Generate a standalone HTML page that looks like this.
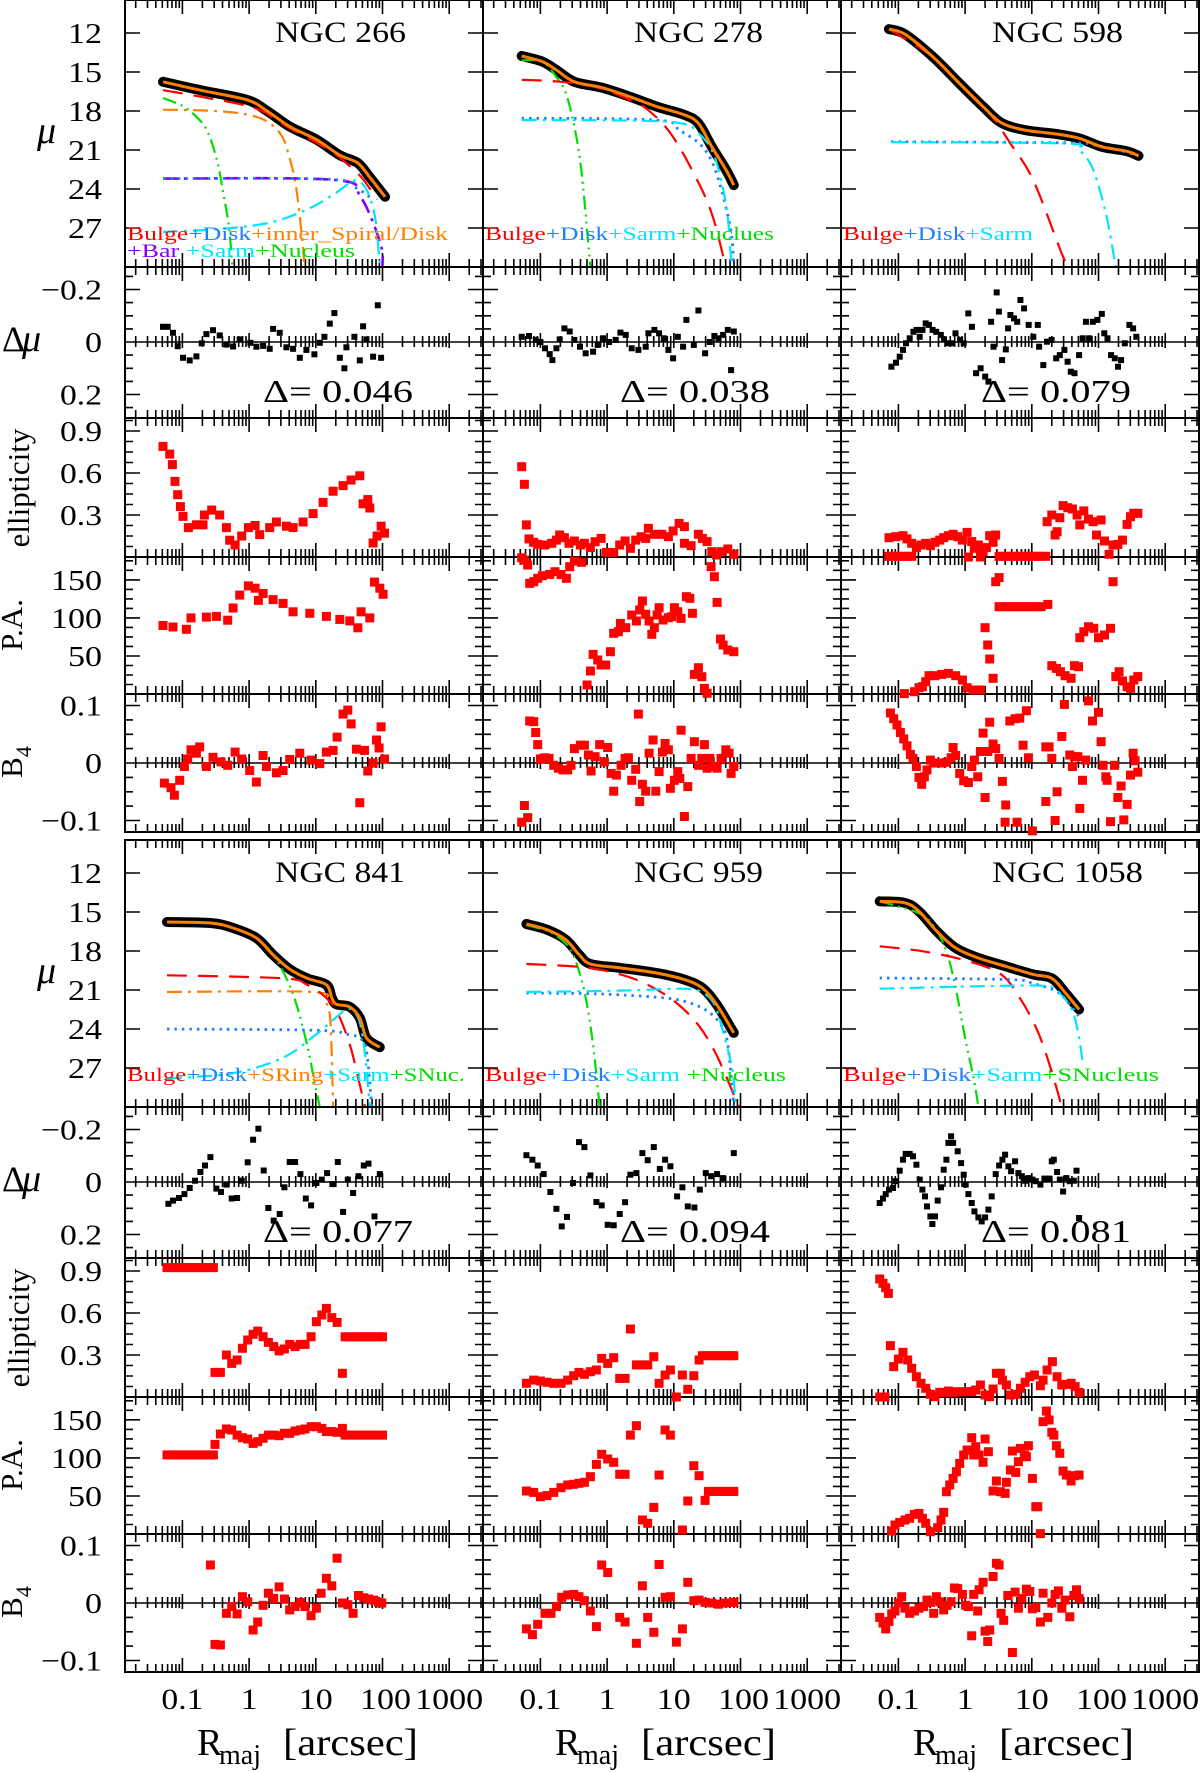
<!DOCTYPE html>
<html><head><meta charset="utf-8"><title>Galaxy decomposition profiles</title>
<style>
html,body{margin:0;padding:0;background:#fff;}
svg{display:block;}
text{font-family:"Liberation Serif","DejaVu Serif",serif;fill:#000;}
</style></head>
<body>
<svg id="chart" xmlns="http://www.w3.org/2000/svg" width="1200" height="1772" viewBox="0 0 1200 1772">
<rect x="0" y="0" width="1200" height="1772" fill="#fff"/>
</svg>
<script>
// ---------- tick data ----------
const muTicks=[12,15,18,21,24,27];
const muLabels=['12','15','18','21','24','27'];
const dmuTicks=[-0.2,0,0.2];
const dmuLabels=['\u22120.2','0','0.2'];
const dmuMinor=[-0.25,-0.15,-0.1,-0.05,0.05,0.1,0.15,0.25];
const ellTicks=[0.3,0.6,0.9];
const ellLabels=['0.3','0.6','0.9'];
const ellMinor=[0.075,0.15,0.225,0.375,0.45,0.525,0.675,0.75,0.825,0.975];
const paTicks=[50,100,150];
const paLabels=['50','100','150'];
const paMinor=[12.5,25,37.5,62.5,75,87.5,112.5,125,137.5,162.5,175];
const b4Ticks=[-0.1,0,0.1];
const b4Labels=['\u22120.1','0','0.1'];
const b4Minor=[-0.075,-0.05,-0.025,0.025,0.05,0.075];
const xMajor=[0.1,1,10,100,1000];
const xLabels=['0.1','1','10','100','1000'];

// ---------- NGC 266 ----------
const n266_tot=[[-1.29,15.75],[-0.73,16.4],[-0.03,17.15],[0.27,18.0],[0.61,19.2],[1.01,20.2],[1.36,21.4],[1.63,22.0],[1.81,23.1],[2.04,24.6]];
const n266_bulge=[[-1.29,16.4],[-0.73,16.9],[0.1,17.8],[0.6,19.3],[1.2,21.0],[1.5,22.2],[1.7,23.2],[1.92,24.8]];
const n266_disk=[[-1.29,23.2],[1.2,23.25],[1.6,23.9],[1.85,24.8]];
const n266_spiral=[[-1.29,17.9],[-0.5,18.0],[0.0,18.3],[0.3,18.9],[0.5,20.0],[0.6,21.5],[0.7,23.7],[0.8,28],[0.83,30]];
const n266_bar=[[-1.29,23.2],[1.27,23.3],[1.67,24.6],[1.97,28.2],[2.0,30]];
const n266_sarm=[[-1.29,27.3],[-0.5,27.1],[0.3,26.6],[0.9,25.5],[1.3,24.3],[1.55,23.4],[1.68,23.5],[1.8,24.5],[1.9,26.5],[1.96,30]];
const n266_nuc=[[-1.29,17.0],[-1.0,17.6],[-0.8,18.4],[-0.63,19.5],[-0.48,21.8],[-0.38,24.5],[-0.3,27],[-0.25,30]];
const n266_dmu=[[-1.29,-0.058],[-1.22,-0.058],[-1.14,-0.035],[-1.07,0.016],[-0.99,0.06],[-0.89,0.07],[-0.79,0.055],[-0.71,0.005],[-0.64,-0.03],[-0.54,-0.045],[-0.44,-0.025],[-0.34,0.01],[-0.24,0.017],[-0.14,-0.01],[0.02,0.003],[0.11,0.018],[0.21,0.015],[0.31,0.026],[0.36,-0.05],[0.46,-0.035],[0.56,0.02],[0.66,0.026],[0.76,0.06],[0.86,0.03],[0.98,0.047],[1.06,0.003],[1.13,-0.02],[1.21,-0.07],[1.28,-0.11],[1.36,0.06],[1.43,0.1],[1.46,0.02],[1.58,-0.02],[1.66,0.07],[1.71,-0.06],[1.76,-0.01],[1.86,0.056],[1.93,-0.14],[1.98,0.06]];
const n266_ell=[[-1.29,0.79],[-1.19,0.735],[-1.15,0.66],[-1.11,0.54],[-1.07,0.445],[-1.03,0.36],[-0.99,0.29],[-0.91,0.21],[-0.79,0.23],[-0.69,0.23],[-0.67,0.3],[-0.56,0.335],[-0.44,0.3],[-0.34,0.21],[-0.29,0.12],[-0.21,0.086],[-0.11,0.15],[-0.01,0.21],[0.09,0.225],[0.16,0.16],[0.31,0.21],[0.41,0.25],[0.56,0.22],[0.66,0.21],[0.81,0.25],[0.96,0.31],[1.11,0.39],[1.26,0.47],[1.41,0.51],[1.53,0.55],[1.66,0.58],[1.71,0.38],[1.78,0.41],[1.81,0.35],[1.86,0.1],[1.92,0.15],[1.98,0.22],[2.03,0.17]];
const n266_pa=[[-1.29,90],[-1.14,88],[-0.94,85],[-0.87,100],[-0.64,101],[-0.49,102],[-0.32,97],[-0.24,113],[-0.14,130],[-0.01,142],[0.09,139],[0.14,123],[0.21,132],[0.36,124],[0.51,119],[0.66,108],[0.91,106],[1.16,102],[1.36,98],[1.51,96],[1.63,87],[1.68,108],[1.81,100],[1.88,147],[1.96,139],[2.01,131]];
const n266_b4=[[-1.27,-0.035],[-1.17,-0.043],[-1.12,-0.056],[-1.04,-0.03],[-0.97,-0.006],[-0.92,0.007],[-0.87,0.023],[-0.79,0.017],[-0.74,0.028],[-0.64,-0.006],[-0.54,0.01],[-0.42,0.002],[-0.32,-0.004],[-0.21,0.019],[-0.11,0.007],[0.01,-0.013],[0.11,-0.033],[0.21,0.013],[0.26,-0.006],[0.41,-0.017],[0.51,-0.013],[0.61,0.006],[0.76,0.017],[0.93,0.005],[1.06,-0.001],[1.16,0.019],[1.26,0.022],[1.32,0.045],[1.41,0.085],[1.48,0.092],[1.53,0.068],[1.61,0.024],[1.66,-0.069],[1.73,0.022],[1.78,-0.014],[1.86,0],[1.91,0.04],[1.95,0.026],[1.98,0.063],[2.03,0.007]];

// ---------- NGC 278 ----------
const n278_tot=[[-1.28,13.77],[-0.97,14.2],[-0.76,14.85],[-0.49,15.75],[-0.08,16.2],[0.34,16.9],[0.75,17.67],[1.16,18.3],[1.37,18.95],[1.57,20.75],[1.78,22.5],[1.9,23.7]];
const n278_bulge=[[-1.28,15.6],[-0.69,15.75],[-0.14,16.2],[0.34,17.15],[0.61,17.9],[0.95,19.7],[1.3,22.8],[1.57,25.9],[1.78,30]];
const n278_disk=[[-1.28,18.55],[0.75,18.7],[1.09,19.5],[1.43,20.75],[1.64,22.8],[1.85,27],[1.9,30]];
const n278_sarm=[[-1.28,18.7],[0.54,18.75],[1.16,19.0],[1.37,19.7],[1.57,21.0],[1.71,23.3],[1.81,26.2],[1.86,29.5],[1.88,30]];
const n278_nuc=[[-1.28,14.1],[-0.97,14.2],[-0.76,15.4],[-0.62,16.6],[-0.49,19.2],[-0.38,22.8],[-0.25,30]];
const n278_dmu=[[-1.28,-0.02],[-1.17,-0.023],[-1.07,-0.008],[-1.0,0],[-0.93,0.024],[-0.86,0.046],[-0.82,0.069],[-0.76,0.024],[-0.71,-0.01],[-0.64,-0.052],[-0.56,-0.04],[-0.49,-0.008],[-0.405,0.018],[-0.32,0.043],[-0.21,0.037],[-0.14,0.011],[-0.06,-0.014],[0.03,0],[0.13,-0.008],[0.2,-0.036],[0.28,-0.027],[0.37,0.024],[0.47,0.03],[0.58,0.018],[0.62,-0.033],[0.71,-0.046],[0.78,-0.033],[0.85,-0.014],[0.92,0.03],[0.99,0.062],[1.06,-0.02],[1.14,0.018],[1.19,-0.084],[1.3,0.011],[1.37,-0.12],[1.47,0.043],[1.54,0],[1.61,-0.023],[1.67,-0.014],[1.74,-0.027],[1.81,-0.046],[1.86,0.107],[1.9,-0.04]];
const n278_ell=[[-1.28,0.645],[-1.24,0.519],[-1.21,0.229],[-1.17,0.129],[-1.1,0.105],[-1.04,0.09],[-0.93,0.086],[-0.83,0.098],[-0.76,0.121],[-0.71,0.157],[-0.64,0.138],[-0.57,0.098],[-0.49,0.114],[-0.4,0.086],[-0.34,0.098],[-0.25,0.067],[-0.18,0.109],[-0.09,0.133],[-0.01,0.033],[0.1,0.033],[0.19,0.086],[0.27,0.114],[0.35,0.062],[0.43,0.121],[0.51,0.145],[0.58,0.133],[0.62,0.205],[0.71,0.162],[0.82,0.162],[0.92,0.145],[0.99,0.186],[1.08,0.24],[1.16,0.217],[1.16,0.098],[1.26,0.081],[1.37,0.162],[1.43,0.133],[1.5,0.11],[1.57,0.038],[1.64,0.014],[1.71,0.038],[1.81,0.057],[1.9,0.019]];
const n278_pa=[[-1.28,179],[-1.24,176],[-1.19,169.5],[-1.16,145.4],[-1.1,147.6],[-1.04,152],[-0.97,155.5],[-0.86,157.2],[-0.78,160.7],[-0.69,157],[-0.61,152],[-0.56,167.3],[-0.49,174.7],[-0.38,173],[-0.3,11.8],[-0.25,30.2],[-0.21,52.1],[-0.14,44.7],[-0.09,38.1],[-0.02,38.1],[0.05,55.6],[0.1,79.7],[0.17,81.9],[0.2,92.8],[0.28,87.1],[0.37,103.8],[0.44,95.9],[0.49,110.4],[0.53,122.2],[0.58,104.7],[0.63,95.9],[0.67,78.4],[0.71,87.1],[0.75,103.8],[0.78,113.4],[0.84,97.2],[0.92,100.3],[0.97,101.6],[1.01,113.4],[1.06,108.2],[1.11,99.4],[1.19,127.9],[1.24,125.7],[1.28,106],[1.31,25.8],[1.37,34.6],[1.42,22.7],[1.46,7.4],[1.5,0.9],[1.56,167.3],[1.61,154.2],[1.65,120.4],[1.7,72.3],[1.74,64.4],[1.81,57.8],[1.9,55.6]];
const n278_b4=[[-1.28,-0.103],[-1.24,-0.074],[-1.19,-0.095],[-1.16,0.073],[-1.1,0.072],[-1.07,0.053],[-1.04,0.032],[-1.0,0.007],[-0.93,0.009],[-0.87,0.008],[-0.8,-0.004],[-0.73,-0.009],[-0.66,-0.012],[-0.59,-0.012],[-0.54,-0.004],[-0.49,0.025],[-0.4,0.031],[-0.34,0.031],[-0.28,0.014],[-0.24,-0.014],[-0.18,0.011],[-0.11,0.032],[-0.04,0.002],[0.01,0.027],[0.06,-0.018],[0.1,-0.049],[0.14,-0.021],[0.21,-0.004],[0.27,0.008],[0.32,0.009],[0.37,-0.03],[0.43,-0.011],[0.47,0.085],[0.49,-0.067],[0.53,-0.037],[0.58,-0.049],[0.63,0.017],[0.69,0.04],[0.73,-0.049],[0.78,-0.015],[0.83,0.019],[0.87,0.034],[0.92,0.023],[0.95,-0.044],[1.01,-0.03],[1.06,-0.015],[1.09,-0.027],[1.11,0.057],[1.16,-0.093],[1.21,-0.041],[1.26,0.008],[1.31,0.037],[1.37,-0.004],[1.42,0.008],[1.46,0.032],[1.5,-0.009],[1.54,0.008],[1.61,-0.006],[1.65,-0.009],[1.71,0.008],[1.78,0.023],[1.83,0.017],[1.86,-0.018],[1.9,-0.006]];

// ---------- NGC 598 ----------
const n598_tot=[[-1.14,11.7],[-0.9,12.1],[-0.49,13.8],[-0.08,15.9],[0.27,17.67],[0.54,18.9],[0.89,19.46],[1.37,19.77],[1.71,20.1],[2.05,20.75],[2.43,21.1],[2.6,21.45]];
const n598_bulge=[[-1.14,11.7],[-0.49,13.8],[-0.08,15.9],[0.34,18.0],[0.68,20.5],[1.02,23.3],[1.43,28.7],[1.54,30]];
const n598_disk=[[-1.11,20.36],[1.5,20.45],[1.9,20.6],[2.3,21.0],[2.6,21.45]];
const n598_sarm=[[-1.11,20.4],[1.5,20.5],[1.71,21.0],[1.92,22.5],[2.12,26.1],[2.26,30]];
const n598_dmu=[[-1.105,0.094],[-1.036,0.079],[-0.98,0.056],[-0.93,0.03],[-0.885,0.005],[-0.83,-0.014],[-0.775,-0.039],[-0.727,-0.046],[-0.68,-0.02],[-0.638,-0.046],[-0.59,-0.071],[-0.542,-0.065],[-0.487,-0.046],[-0.432,-0.039],[-0.364,-0.027],[-0.316,-0.01],[-0.26,0.005],[-0.2,0.005],[-0.144,-0.033],[-0.075,-0.008],[-0.02,0.005],[0.048,-0.109],[0.103,-0.058],[0.165,0.119],[0.233,0.1],[0.302,0.132],[0.35,0.151],[0.391,-0.077],[0.426,0.018],[0.474,-0.189],[0.508,-0.116],[0.556,0.069],[0.611,0.028],[0.645,-0.052],[0.68,-0.103],[0.734,-0.09],[0.782,-0.077],[0.83,-0.16],[0.885,-0.128],[0.954,-0.065],[1.023,-0.02],[1.09,-0.065],[1.11,0.018],[1.173,0.088],[1.228,-0.001],[1.297,-0.008],[1.366,0.062],[1.42,0.05],[1.49,0.03],[1.537,0.075],[1.585,0.113],[1.64,0.119],[1.71,0.05],[1.764,-0.014],[1.812,-0.077],[1.86,-0.014],[1.915,-0.077],[1.984,-0.084],[2.05,-0.107],[2.087,-0.033],[2.135,-0.014],[2.19,0.05],[2.245,0.062],[2.293,0.094],[2.34,0.069],[2.395,0.005],[2.464,-0.065],[2.52,-0.052],[2.567,-0.02]];
const n598_ell=[[-1.14,0.138],[-1.04,0.145],[-0.93,0.152],[-0.87,0.129],[-0.8,0.098],[-0.73,0.067],[-0.66,0.086],[-0.59,0.098],[-0.52,0.081],[-0.45,0.105],[-0.38,0.121],[-0.32,0.138],[-0.25,0.152],[-0.18,0.162],[-0.11,0.145],[-0.04,0.121],[0.03,0.176],[0.1,0.11],[0.14,0.062],[0.2,0.086],[0.27,0.038],[0.32,0.067],[0.37,0.152],[0.42,0.105],[0.46,0.157],[1.23,0.252],[1.3,0.3],[1.35,0.157],[1.38,0.181],[1.42,0.281],[1.47,0.367],[1.54,0.352],[1.61,0.343],[1.68,0.3],[1.72,0.229],[1.78,0.329],[1.85,0.271],[1.92,0.252],[1.97,0.157],[2.04,0.264],[2.09,0.114],[2.16,0.019],[2.22,0.086],[2.29,0.09],[2.36,0.121],[2.43,0.233],[2.48,0.288],[2.53,0.312],[2.59,0.312],[-1.14,0.005],[-1.07,0.005],[-1.0,0.005],[-0.93,0.005],[-0.86,0.005],[-0.8,0.005],[0.05,0.0],[0.23,0.0],[0.51,0.005],[0.58,0.005],[0.65,0.005],[0.72,0.005],[0.79,0.005],[0.86,0.005],[0.93,0.005],[1.0,0.005],[1.07,0.005],[1.14,0.005],[1.21,0.005]];
const n598_pa=[[-0.91,0.5],[-0.76,3],[-0.69,8.3],[-0.64,9.6],[-0.59,16.2],[-0.54,24.1],[-0.45,24.1],[-0.35,25.8],[-0.25,27.1],[-0.14,24.1],[-0.04,18.4],[0.03,8.3],[0.12,5.2],[0.23,5.2],[0.3,87.1],[0.34,64.4],[0.37,46],[0.42,20.6],[0.46,147.6],[0.51,152.9],[0.51,114.7],[0.58,114.7],[0.65,114.7],[0.72,114.7],[0.79,114.7],[0.86,114.7],[0.93,114.7],[1.0,114.7],[1.07,114.7],[1.14,114.7],[1.24,117.8],[1.3,37.2],[1.37,33.7],[1.43,29.3],[1.5,24.1],[1.59,20.6],[1.64,37.2],[1.7,35.9],[1.72,74],[1.78,81.9],[1.85,88.5],[1.93,86.3],[2.0,74],[2.09,77.5],[2.18,86.3],[2.22,147.6],[2.26,22.8],[2.31,29.3],[2.36,17.1],[2.43,9.6],[2.48,7.4],[2.53,18.4],[2.59,22.8]];
const n598_b4=[[-1.12,0.087],[-1.07,0.077],[-1.02,0.066],[-0.97,0.053],[-0.92,0.042],[-0.87,0.03],[-0.82,0.015],[-0.78,0.008],[-0.73,-0.006],[-0.69,-0.025],[-0.65,-0.037],[-0.61,-0.024],[-0.57,-0.012],[-0.52,0.005],[-0.47,0],[-0.42,0],[-0.35,0],[-0.28,0.001],[-0.21,0.009],[-0.18,0.027],[-0.14,0.013],[-0.08,-0.018],[-0.02,-0.031],[0.05,-0.034],[0.1,-0.006],[0.14,0.005],[0.19,-0.024],[0.23,0.02],[0.27,0.052],[0.3,-0.06],[0.34,0.02],[0.37,0.071],[0.42,0.033],[0.46,0.025],[0.51,0.008],[0.56,-0.032],[0.61,-0.073],[0.67,0.073],[0.75,0.077],[0.82,0.078],[0.87,0.031],[0.92,0.091],[0.95,0.009],[0.78,-0.103],[0.6,-0.103],[1.01,-0.118],[1.21,0.028],[1.26,0.028],[1.3,0.008],[1.35,-0.1],[1.38,-0.05],[1.45,0.046],[1.49,0.102],[1.57,0.014],[1.61,-0.006],[1.64,0.011],[1.69,0.011],[1.72,-0.079],[1.76,-0.03],[1.81,0.005],[1.85,0.108],[1.91,0.073],[2.0,0.088],[2.04,0.037],[2.07,-0.004],[2.11,-0.024],[2.13,-0.03],[2.18,-0.102],[2.24,-0.004],[2.29,-0.06],[2.34,-0.04],[2.38,-0.099],[2.43,-0.072],[2.48,-0.021],[2.52,0.017],[2.55,0.004],[2.59,-0.016],[1.21,-0.067]];

// ---------- NGC 841 ----------
const n841_tot=[[-1.23,15.77],[-0.58,15.85],[-0.24,16.23],[0.11,17.0],[0.36,18.3],[0.61,19.4],[0.87,20.1],[1.16,20.6],[1.24,21.6],[1.31,22.1],[1.51,22.3],[1.66,23.15],[1.76,24.7],[1.96,25.4]];
const n841_bulge=[[-1.23,19.87],[0.51,20.1],[0.87,20.6],[1.11,21.4],[1.31,22.6],[1.51,25.2],[1.66,28.3],[1.74,30]];
const n841_disk=[[-1.23,24.0],[1.01,24.1],[1.46,24.4],[1.66,24.7],[1.76,25.7],[1.84,30]];
const n841_sring=[[-1.23,21.15],[0.96,21.15],[1.14,21.9],[1.21,22.9],[1.24,26],[1.26,30]];
const n841_sarm=[[-1.23,27.8],[-0.24,27.4],[0.51,26.2],[1.01,24.4],[1.26,23.3],[1.46,22.5],[1.56,22.6],[1.66,23.5],[1.74,26],[1.81,30]];
const n841_nuc=[[-1.23,15.77],[-0.58,15.85],[-0.24,16.23],[0.11,17.0],[0.36,18.3],[0.56,20.1],[0.71,22.1],[0.87,25.2],[0.99,28.3],[1.06,30]];
const n841_dmu=[[-1.21,0.083],[-1.14,0.071],[-1.05,0.061],[-0.97,0.046],[-0.89,0.023],[-0.81,-0.005],[-0.73,-0.038],[-0.66,-0.063],[-0.58,-0.095],[-0.49,0.025],[-0.42,0.038],[-0.34,0.01],[-0.26,0.063],[-0.18,0.061],[-0.11,-0.005],[-0.02,-0.075],[0.06,-0.161],[0.14,-0.203],[0.22,-0.044],[0.29,0.099],[0.37,0.147],[0.46,0.122],[0.53,0.02],[0.61,-0.076],[0.69,-0.076],[0.77,-0.03],[0.85,0.063],[0.93,0.089],[1.01,0.004],[1.09,-0.009],[1.17,-0.034],[1.25,0.008],[1.33,-0.076],[1.41,0.114],[1.48,-0.009],[1.56,0.042],[1.64,-0.022],[1.72,-0.063],[1.79,-0.07],[1.88,0.131],[1.96,-0.03]];
const n841_ell=[[-1.23,0.924],[-1.16,0.924],[-1.09,0.924],[-1.02,0.924],[-0.95,0.924],[-0.88,0.924],[-0.81,0.924],[-0.74,0.924],[-0.67,0.924],[-0.6,0.924],[-0.535,0.924],[-0.51,0.176],[-0.43,0.176],[-0.34,0.3],[-0.26,0.24],[-0.18,0.264],[-0.1,0.348],[-0.02,0.407],[0.06,0.448],[0.13,0.471],[0.21,0.431],[0.29,0.39],[0.37,0.36],[0.45,0.329],[0.53,0.343],[0.61,0.376],[0.69,0.36],[0.77,0.376],[0.84,0.376],[0.93,0.431],[1.01,0.538],[1.09,0.586],[1.16,0.633],[1.24,0.567],[1.32,0.533],[1.4,0.169],[1.44,0.43],[1.51,0.43],[1.58,0.43],[1.65,0.43],[1.72,0.43],[1.79,0.43],[1.86,0.43],[1.93,0.43],[2.0,0.43]];
const n841_pa=[[-1.23,104],[-1.16,104],[-1.09,104],[-1.02,104],[-0.95,104],[-0.88,104],[-0.81,104],[-0.74,104],[-0.67,104],[-0.6,104],[-0.535,104],[-0.51,117.8],[-0.43,131.4],[-0.34,138],[-0.26,136.6],[-0.18,130],[-0.1,126.6],[-0.02,124.8],[0.06,119.1],[0.13,121.3],[0.21,125.7],[0.29,130],[0.37,130],[0.45,129.2],[0.53,132.3],[0.61,132.3],[0.69,135.3],[0.77,136.6],[0.84,138],[0.93,141],[1.01,141],[1.09,138.8],[1.16,134.5],[1.24,134.5],[1.32,133.6],[1.4,138.8],[1.44,130],[1.51,130],[1.58,130],[1.65,130],[1.72,130],[1.79,130],[1.86,130],[1.93,130],[2.0,130]];
const n841_b4=[[-0.58,0.066],[-0.51,-0.072],[-0.43,-0.073],[-0.34,-0.018],[-0.26,-0.006],[-0.18,-0.019],[-0.1,0.011],[-0.02,0.002],[0.06,-0.047],[0.13,-0.033],[0.21,-0.004],[0.29,0.017],[0.37,0.008],[0.45,0.028],[0.53,0.007],[0.61,-0.012],[0.69,-0.006],[0.77,0.001],[0.84,-0.006],[0.93,-0.022],[1.01,-0.009],[1.08,0.017],[1.16,0.043],[1.24,0.03],[1.32,0.078],[1.4,0],[1.48,-0.003],[1.56,-0.018],[1.64,0.013],[1.72,0.009],[1.79,0.007],[1.87,0.005],[1.94,0.001],[1.99,0]];

// ---------- NGC 959 ----------
const n959_tot=[[-1.21,15.92],[-0.9,16.36],[-0.62,17.13],[-0.42,18.28],[-0.25,19.0],[0.2,19.3],[0.75,19.7],[1.16,20.2],[1.43,20.85],[1.64,22.1],[1.9,24.3]];
const n959_bulge=[[-1.21,19.0],[-0.35,19.25],[0.2,19.8],[0.61,20.6],[1.02,21.9],[1.37,23.7],[1.64,26],[1.88,28.8],[1.98,30]];
const n959_disk=[[-1.21,21.23],[-0.14,21.3],[0.75,21.56],[1.16,21.87],[1.5,22.6],[1.71,23.7],[1.81,25.2],[1.9,30]];
const n959_sarm=[[-1.21,21.15],[0.2,21.05],[1.16,20.9],[1.43,21.2],[1.61,22.1],[1.74,24.2],[1.88,27.2],[1.93,30]];
const n959_nuc=[[-1.21,16.0],[-0.83,16.6],[-0.56,17.8],[-0.42,19.56],[-0.32,21.6],[-0.21,25.2],[-0.11,30]];
const n959_dmu=[[-1.21,-0.102],[-1.12,-0.085],[-1.04,-0.063],[-0.95,-0.03],[-0.85,0.038],[-0.76,0.102],[-0.68,0.169],[-0.6,0.133],[-0.51,0.004],[-0.42,-0.152],[-0.34,-0.133],[-0.25,-0.025],[-0.16,0.076],[-0.08,0.089],[0.01,0.163],[0.1,0.165],[0.19,0.122],[0.27,0.077],[0.35,-0.028],[0.44,-0.034],[0.53,-0.11],[0.61,-0.083],[0.7,-0.133],[0.79,-0.05],[0.87,-0.085],[0.95,-0.06],[1.05,0.055],[1.13,0.02],[1.21,0.093],[1.31,0.097],[1.39,0.029],[1.48,-0.034],[1.56,-0.022],[1.65,-0.03],[1.74,-0.015],[1.9,-0.11]];
const n959_ell=[[-1.21,0.098],[-1.1,0.121],[-1.0,0.114],[-0.9,0.105],[-0.8,0.098],[-0.69,0.098],[-0.59,0.121],[-0.5,0.152],[-0.42,0.176],[-0.34,0.162],[-0.25,0.181],[-0.16,0.193],[-0.08,0.276],[0.01,0.24],[0.1,0.281],[0.19,0.133],[0.27,0.133],[0.35,0.486],[0.44,0.229],[0.53,0.229],[0.61,0.229],[0.7,0.288],[0.78,0.098],[0.87,0.157],[0.95,0.193],[1.04,0.0],[1.13,0.157],[1.21,0.055],[1.3,0.152],[1.38,0.264],[1.43,0.295],[1.5,0.295],[1.57,0.295],[1.64,0.295],[1.71,0.295],[1.78,0.295],[1.85,0.295],[1.9,0.295]];
const n959_pa=[[-1.21,56.5],[-1.1,54.7],[-1.0,49],[-0.9,50.4],[-0.8,54.7],[-0.69,60.9],[-0.59,64.4],[-0.5,65.3],[-0.42,66.6],[-0.34,67.9],[-0.25,75.3],[-0.16,91.5],[-0.08,104.7],[0.01,98.5],[0.1,94.2],[0.19,78.4],[0.27,78.4],[0.35,130],[0.44,142.3],[0.53,18.4],[0.61,14],[0.7,35],[0.78,77.5],[0.87,136.6],[0.95,130],[1.13,5.2],[1.21,43.3],[1.3,89.8],[1.38,76.6],[1.47,44.2],[1.52,56],[1.59,56],[1.66,56],[1.73,56],[1.8,56],[1.87,56],[1.9,56]];
const n959_b4=[[-1.21,-0.045],[-1.12,-0.055],[-1.04,-0.037],[-0.93,-0.018],[-0.84,-0.018],[-0.76,-0.006],[-0.68,0.01],[-0.59,0.014],[-0.5,0.015],[-0.42,0.011],[-0.34,0.004],[-0.25,-0.014],[-0.16,-0.041],[-0.08,0.066],[0.01,0.053],[0.19,-0.025],[0.27,-0.033],[0.44,-0.07],[0.53,0.03],[0.61,-0.025],[0.7,-0.051],[0.78,0.067],[0.87,0.01],[0.95,0.011],[1.04,-0.068],[1.13,-0.045],[1.21,0.036],[1.3,0.004],[1.38,0.005],[1.47,0.001],[1.57,0],[1.67,-0.002],[1.78,0],[1.9,0.001]];

// ---------- NGC 1058 ----------
const n1058_tot=[[-1.28,14.18],[-0.9,14.3],[-0.69,14.95],[-0.42,16.5],[-0.14,17.77],[0.2,18.54],[0.61,19.18],[1.02,19.8],[1.3,20.1],[1.5,21.2],[1.71,22.5]];
const n1058_bulge=[[-1.28,17.64],[-0.62,18.03],[0.06,18.8],[0.54,19.8],[0.82,21.6],[1.09,24.2],[1.3,27.3],[1.45,30]];
const n1058_disk=[[-1.28,20.08],[0.68,20.2],[1.02,20.5],[1.37,21.1],[1.57,22.1],[1.7,23.0]];
const n1058_sarm=[[-1.28,20.9],[0.34,20.7],[1.23,20.7],[1.43,21.3],[1.61,22.6],[1.71,24.7],[1.76,26.5]];
const n1058_nuc=[[-1.28,14.18],[-0.69,15.1],[-0.45,16.23],[-0.28,18.03],[-0.14,20.85],[0.0,24.7],[0.13,27.8],[0.2,30]];
const n1058_dmu=[[-1.28,0.08],[-1.23,0.063],[-1.19,0.046],[-1.14,0.029],[-1.08,0.023],[-1.04,-0.003],[-0.98,-0.043],[-0.93,-0.085],[-0.89,-0.107],[-0.83,-0.107],[-0.78,-0.098],[-0.73,-0.066],[-0.68,-0.009],[-0.64,0.029],[-0.6,0.055],[-0.57,0.093],[-0.52,0.131],[-0.49,0.16],[-0.45,0.131],[-0.41,0.071],[-0.36,0.02],[-0.32,-0.047],[-0.28,-0.085],[-0.25,-0.149],[-0.21,-0.174],[-0.18,-0.149],[-0.11,-0.117],[-0.06,-0.072],[-0.02,-0.028],[0.01,0.01],[0.05,0.046],[0.1,0.08],[0.14,0.112],[0.2,0.135],[0.25,0.15],[0.3,0.135],[0.35,0.105],[0.4,0.055],[0.46,-0.03],[0.51,-0.063],[0.56,-0.085],[0.6,-0.104],[0.65,-0.06],[0.69,-0.041],[0.75,-0.079],[0.8,-0.034],[0.85,-0.022],[0.9,-0.005],[0.95,-0.015],[1.01,-0.009],[1.06,-0.003],[1.13,0.01],[1.19,-0.013],[1.26,-0.013],[1.3,-0.079],[1.33,-0.085],[1.38,-0.038],[1.42,-0.009],[1.47,0.036],[1.52,-0.015],[1.57,-0.003],[1.63,-0.005],[1.67,-0.043],[1.71,0.137]];
const n1058_ell=[[-1.28,0.843],[-1.23,0.812],[-1.19,0.781],[-1.15,0.74],[-1.12,0.367],[-1.07,0.217],[-1.0,0.271],[-0.93,0.319],[-0.86,0.264],[-0.8,0.205],[-0.73,0.145],[-0.66,0.098],[-0.59,0.062],[-0.52,0.019],[-0.45,0.002],[-0.38,0.033],[-0.32,0.033],[-0.25,0.043],[-0.18,0.033],[-0.11,0.038],[-0.04,0.038],[0.03,0.038],[0.1,0.038],[0.16,0.05],[0.23,0.086],[0.3,0.014],[0.37,0.002],[0.42,0.057],[0.47,0.169],[0.53,0.169],[0.56,0.121],[0.62,0.086],[0.68,0.014],[0.76,0.019],[0.83,0.062],[0.9,0.105],[0.97,0.145],[1.04,0.157],[1.13,0.081],[1.17,0.121],[1.23,0.193],[1.31,0.252],[1.38,0.145],[1.45,0.086],[1.52,0.09],[1.59,0.098],[1.65,0.074],[1.71,0.033],[-1.28,0.0],[-1.2,0.0]];
const n1058_pa=[[-1.1,4],[-1.05,11.8],[-0.98,15.3],[-0.9,18.4],[-0.83,20.6],[-0.76,25.8],[-0.69,27.1],[-0.64,20.6],[-0.59,14],[-0.52,3],[-0.41,8.3],[-0.36,18.4],[-0.32,28.5],[-0.28,55.6],[-0.23,64.4],[-0.18,73.1],[-0.13,81.9],[-0.08,92.8],[-0.02,103.8],[0.03,110.4],[0.1,126.6],[0.13,103.8],[0.16,114.7],[0.21,103.8],[0.27,94.2],[0.3,124.8],[0.35,108.2],[0.42,56.5],[0.47,69.6],[0.53,55.6],[0.6,53.4],[0.62,67.9],[0.68,84.1],[0.71,109.1],[0.76,81],[0.8,95],[0.83,112.5],[0.89,103.8],[0.92,101.6],[0.95,116],[1.01,73.1],[1.06,35.9],[1.09,35.9],[1.13,0.5],[1.17,147.6],[1.22,161.6],[1.26,149.8],[1.3,133.6],[1.33,130],[1.37,116],[1.42,106],[1.47,82.8],[1.52,77.5],[1.59,69.6],[1.64,76.6],[1.71,77.5]];
const n1058_b4=[[-1.28,-0.025],[-1.23,-0.035],[-1.19,-0.045],[-1.14,-0.032],[-1.1,-0.019],[-1.05,-0.014],[-1.0,0],[-0.95,0.011],[-0.9,-0.009],[-0.83,-0.018],[-0.76,-0.014],[-0.69,-0.009],[-0.62,-0.006],[-0.57,0.005],[-0.52,0.001],[-0.47,-0.018],[-0.43,0.011],[-0.38,0.002],[-0.32,-0.012],[-0.27,-0.004],[-0.21,0.002],[-0.16,0.026],[-0.11,0.025],[-0.04,0.015],[0.01,-0.004],[0.05,-0.006],[0.1,-0.057],[0.13,0.015],[0.19,-0.014],[0.21,0.023],[0.27,0.036],[0.3,-0.049],[0.34,-0.067],[0.37,-0.047],[0.42,0.046],[0.47,0.069],[0.51,0.066],[0.54,-0.018],[0.58,-0.03],[0.64,0.013],[0.71,-0.086],[0.75,0.019],[0.8,-0.009],[0.85,0.008],[0.92,0.024],[0.97,0.02],[1.01,-0.01],[1.06,-0.008],[1.13,-0.033],[1.17,0.017],[1.24,-0.025],[1.3,0],[1.35,0.015],[1.4,0.021],[1.45,-0.009],[1.5,0.005],[1.57,-0.024],[1.63,0.013],[1.67,0.023],[1.71,0.008]];

// ---------- layout ----------
const NS='http://www.w3.org/2000/svg';
const svg=document.getElementById('chart');
const COL0=[125,483,841];
const GY=[0,840];
const W=358;
const LMIN=-1.86;
const PX=66.7;
function xOf(c,lg){return COL0[c]+(lg-LMIN)*PX;}
const PANELS={
  mu:{top:0,bot:267,f:v=>33+(v-12)*13},
  dmu:{top:267,bot:418,f:v=>342+v*262.5},
  ell:{top:418,bot:557,f:v=>557-v*140},
  pa:{top:557,bot:694,f:v=>694-v*0.761},
  b4:{top:694,bot:832,f:v=>763-v*575}
};
const AXES={
  mu:{major:muTicks,minor:[],labels:muLabels},
  dmu:{major:dmuTicks,minor:dmuMinor,labels:dmuLabels,zero:true},
  ell:{major:ellTicks,minor:ellMinor,labels:ellLabels},
  pa:{major:paTicks,minor:paMinor,labels:paLabels},
  b4:{major:b4Ticks,minor:b4Minor,labels:b4Labels,zero:true}
};
const STYLES={
  bulge:{c:'#ff0000',d:'20 11',w:2.2},
  disk:{c:'#1e7fff',d:'2.5 5',w:2.8},
  sarm:{c:'#00e5ff',d:'15 6 3 6',w:2.2},
  nuc:{c:'#00dd00',d:'14 5 2 5 2 5',w:2.2},
  spiral:{c:'#ff8000',d:'15 6 3 6',w:2.2},
  sring:{c:'#ff8000',d:'15 6 3 6',w:2.2},
  bar:{c:'#8000ff',d:'15 6 3 6',w:2.6}
};
const LCOL={r:'#ff0000',b:'#1e7fff',o:'#ff8000',c:'#00e5ff',g:'#00dd00',p:'#8000ff'};

const galaxies=[
 {id:'ngc266',name:'NGC 266',col:0,g:0,delta:'0.046',tx:275,tw:131,dx:263,
  tot:n266_tot,comps:[['spiral',n266_spiral],['nuc',n266_nuc],['bar',n266_bar],['disk',n266_disk],['sarm',n266_sarm],['bulge',n266_bulge]],
  dmu:n266_dmu,ell:n266_ell,pa:n266_pa,b4:n266_b4,
  legend:[[[['r','Bulge'],['b','+Disk'],['o','+inner_Spiral/Disk']],321,240],[[['p','+Bar'],['c',' +Sarm'],['g','+Nucleus']],228,257]]},
 {id:'ngc278',name:'NGC 278',col:1,g:0,delta:'0.038',tx:634,tw:129,dx:620,
  tot:n278_tot,comps:[['nuc',n278_nuc],['bulge',n278_bulge],['disk',n278_disk],['sarm',n278_sarm]],
  dmu:n278_dmu,ell:n278_ell,pa:n278_pa,b4:n278_b4,
  legend:[[[['r','Bulge'],['b','+Disk'],['c','+Sarm'],['g','+Nuclues']],289,240]]},
 {id:'ngc598',name:'NGC 598',col:2,g:0,delta:'0.079',tx:992,tw:131,dx:981,
  tot:n598_tot,comps:[['bulge',n598_bulge],['disk',n598_disk],['sarm',n598_sarm]],
  dmu:n598_dmu,ell:n598_ell,pa:n598_pa,b4:n598_b4,
  legend:[[[['r','Bulge'],['b','+Disk'],['c','+Sarm']],190,240]]},
 {id:'ngc841',name:'NGC 841',col:0,g:1,delta:'0.077',tx:275,tw:130,dx:263,
  tot:n841_tot,comps:[['nuc',n841_nuc],['sring',n841_sring],['bulge',n841_bulge],['disk',n841_disk],['sarm',n841_sarm]],
  dmu:n841_dmu,ell:n841_ell,pa:n841_pa,b4:n841_b4,
  legend:[[[['r','Bulge'],['b','+Disk'],['o','+SRing'],['c','+Sarm'],['g','+SNuc.']],338,241]]},
 {id:'ngc959',name:'NGC 959',col:1,g:1,delta:'0.094',tx:634,tw:129,dx:620,
  tot:n959_tot,comps:[['nuc',n959_nuc],['bulge',n959_bulge],['disk',n959_disk],['sarm',n959_sarm]],
  dmu:n959_dmu,ell:n959_ell,pa:n959_pa,b4:n959_b4,
  legend:[[[['r','Bulge'],['b','+Disk'],['c','+Sarm  '],['g','+Nucleus']],301,241]]},
 {id:'ngc1058',name:'NGC 1058',col:2,g:1,delta:'0.081',tx:992,tw:151,dx:981,
  tot:n1058_tot,comps:[['nuc',n1058_nuc],['bulge',n1058_bulge],['disk',n1058_disk],['sarm',n1058_sarm]],
  dmu:n1058_dmu,ell:n1058_ell,pa:n1058_pa,b4:n1058_b4,
  legend:[[[['r','Bulge'],['b','+Disk'],['c','+Sarm'],['g','+SNucleus']],316,241]]}
];

function mk(tag,attrs,parent){
  const e=document.createElementNS(NS,tag);
  for(const k in attrs){e.setAttribute(k,attrs[k]);}
  (parent||svg).appendChild(e);
  return e;
}
function labelWidth(s){
  let w=0;
  for(const ch of s){w+=(ch==='.')?8:(ch==='\u2212'?19:17);}
  return w;
}
const defs=mk('defs',{});



function xTickList(){
  const out=[];
  for(let d=-2;d<=3;d++){
    for(let m=1;m<=9;m++){
      const lg=d+Math.log10(m);
      if(lg>LMIN+0.01 && lg<3.5){out.push([lg,m===1]);}
    }
  }
  return out;
}
const XT=xTickList();

function drawPanel(gal,key){
  const P=PANELS[key], A=AXES[key];
  const c=gal.col, oy=GY[gal.g];
  const x0=COL0[c], x1=x0+W, y0=oy+P.top, y1=oy+P.bot;
  const grp=mk('g',{});
  
  
  const fr=mk('rect',{x:x0,y:y0,width:W,height:y1-y0,fill:'none',stroke:'#000','stroke-width':2},grp);
  
  
  let d='';
  XT.forEach(([lg,maj])=>{
    const x=xOf(c,lg).toFixed(1); const L=maj?14:8;
    d+=`M${x} ${y0}v${L}M${x} ${y1}v${-L}`;
    if(A.zero){const yz=oy+P.f(0); d+=`M${x} ${yz-(maj?9:6)}v${maj?15:11}`;}
  });
  A.major.forEach(v=>{const y=(oy+P.f(v)).toFixed(1); d+=`M${x0} ${y}h15M${x1} ${y}h-15`;});
  A.minor.forEach(v=>{const y=(oy+P.f(v)).toFixed(1); d+=`M${x0} ${y}h8M${x1} ${y}h-8`;});
  if(A.zero){const yz=oy+P.f(0); d+=`M${x0} ${yz}H${x1}`;}
  const tk=mk('path',{d:d,stroke:'#000','stroke-width':1.6,fill:'none'},grp);
  
  
  if(c===0){
    A.major.forEach((v,i)=>{
      const s=A.labels[i];
      const t=mk('text',{x:102,y:(oy+P.f(v)+10).toFixed(1),'text-anchor':'end','font-size':29,textLength:labelWidth(s),lengthAdjust:'spacingAndGlyphs'},grp);
      t.textContent=s;
      
      
    });
  }
  return grp;
}

function scatter(gal,key,arr,color,size){
  const P=PANELS[key], oy=GY[gal.g];
  const grp=mk('g',{fill:color});
  
  
  arr.forEach(([lg,v])=>{
    const x=xOf(gal.col,lg), y=oy+P.f(v);
    const r=mk('rect',{x:(x-size/2).toFixed(1),y:(y-size/2).toFixed(1),width:size,height:size},grp);
    
    
  });
}

function pathOf(gal,arr){
  const P=PANELS.mu, oy=GY[gal.g];
  const pts=arr.map(p=>[xOf(gal.col,p[0]),oy+P.f(p[1])]);
  let d='M'+pts[0][0].toFixed(1)+' '+pts[0][1].toFixed(1);
  for(let i=0;i<pts.length-1;i++){
    const p0=pts[Math.max(0,i-1)], p1=pts[i], p2=pts[i+1], p3=pts[Math.min(pts.length-1,i+2)];
    const c1x=p1[0]+(p2[0]-p0[0])/6, c1y=p1[1]+(p2[1]-p0[1])/6;
    const c2x=p2[0]-(p3[0]-p1[0])/6, c2y=p2[1]-(p3[1]-p1[1])/6;
    d+=`C${c1x.toFixed(1)} ${c1y.toFixed(1)} ${c2x.toFixed(1)} ${c2y.toFixed(1)} ${p2[0].toFixed(1)} ${p2[1].toFixed(1)}`;
  }
  return d;
}

galaxies.forEach(gal=>{
  const c=gal.col, oy=GY[gal.g], x0=COL0[c];
  Object.keys(PANELS).forEach(k=>drawPanel(gal,k));
  const cp=mk('clipPath',{id:'clip-'+gal.id},defs);
  
  
  const cr=mk('rect',{x:x0+1,y:oy+1,width:W-2,height:265},cp);
  
  
  const lg=mk('g',{'clip-path':'url(#clip-'+gal.id+')'});
  
  
  const tb=mk('path',{d:pathOf(gal,gal.tot),stroke:'#000','stroke-width':10,fill:'none','stroke-linecap':'round','stroke-linejoin':'round'},lg);
  
  
  gal.comps.forEach(([kind,arr])=>{
    const s=STYLES[kind];
    const p=mk('path',{d:pathOf(gal,arr),stroke:s.c,'stroke-width':s.w,fill:'none','stroke-dasharray':s.d},lg);
    
    
  });
  const to=mk('path',{d:pathOf(gal,gal.tot),stroke:'#ff8000','stroke-width':3,fill:'none','stroke-linejoin':'round'},lg);
  
  
  gal.legend.forEach(([segs,len,by])=>{
    const t=mk('text',{x:x0+2,y:oy+by,'font-size':19,textLength:len,lengthAdjust:'spacingAndGlyphs','xml:space':'preserve'});
    
    
    segs.forEach(([col,txt])=>{
      const ts=mk('tspan',{fill:LCOL[col]},t);
      ts.textContent=txt;
      
      
    });
  });
  const ti=mk('text',{x:gal.tx,y:oy+42,'font-size':30,textLength:gal.tw,lengthAdjust:'spacingAndGlyphs'});
  ti.textContent=gal.name;
  
  
  const dl=mk('text',{x:gal.dx,y:oy+402,'font-size':32,textLength:150,lengthAdjust:'spacingAndGlyphs','xml:space':'preserve'});
  dl.textContent='\u0394=  '+gal.delta;
  
  
  scatter(gal,'dmu',gal.dmu,'#000',6);
  scatter(gal,'ell',gal.ell.filter(p=>p[1]>=-0.01&&p[1]<=1),'#ff0000',9);
  scatter(gal,'pa',gal.pa.filter(p=>p[1]>=0&&p[1]<=181),'#ff0000',9);
  scatter(gal,'b4',gal.b4,'#ff0000',9);
});

[0,1].forEach(g=>{
  const oy=GY[g];
  const mu=mk('text',{x:37,y:oy+143,'font-size':38,'font-style':'italic'});
  mu.textContent='\u03bc';
  
  
  const dm=mk('text',{x:2,y:oy+351,'font-size':36});
  dm.textContent='\u0394';
  
  
  const dm2=mk('text',{x:22,y:oy+351,'font-size':38,'font-style':'italic'});
  dm2.textContent='\u03bc';
  
  
  const el=mk('text',{x:0,y:0,'font-size':31,'text-anchor':'middle',transform:`translate(29,${oy+488}) rotate(-90)`});
  el.textContent='ellipticity';
  
  
  const pa=mk('text',{x:0,y:0,'font-size':31,'text-anchor':'middle',transform:`translate(22,${oy+625}) rotate(-90)`});
  pa.textContent='P.A.';
  
  
  const b4=mk('text',{x:0,y:0,'font-size':31,'text-anchor':'middle',transform:`translate(22,${oy+762}) rotate(-90)`});
  b4.textContent='B';
  
  
  const b4s=mk('tspan',{'font-size':22,dy:9},b4);
  b4s.textContent='4';
  
  
});

[0,1,2].forEach(c=>{
  xMajor.forEach((v,i)=>{
    let x=xOf(c,Math.log10(v));
    if(v===100){x+=3;}
    const s=xLabels[i];
    const w=Math.min(labelWidth(s),v===1000?68:99);
    const t=mk('text',{x:x.toFixed(1),y:1709,'font-size':30,'text-anchor':'middle',textLength:w,lengthAdjust:'spacingAndGlyphs'});
    t.textContent=s;
    
    
  });
  const off=COL0[c]-125;
  const r=mk('text',{x:197+off,y:1755,'font-size':38});
  r.textContent='R';
  
  
  const s=mk('text',{x:219+off,y:1764,'font-size':28});
  s.textContent='maj';
  
  
  const a=mk('text',{x:283+off,y:1755,'font-size':38,textLength:135,lengthAdjust:'spacingAndGlyphs'});
  a.textContent='[arcsec]';
  
  
});
</script>
</body></html>
